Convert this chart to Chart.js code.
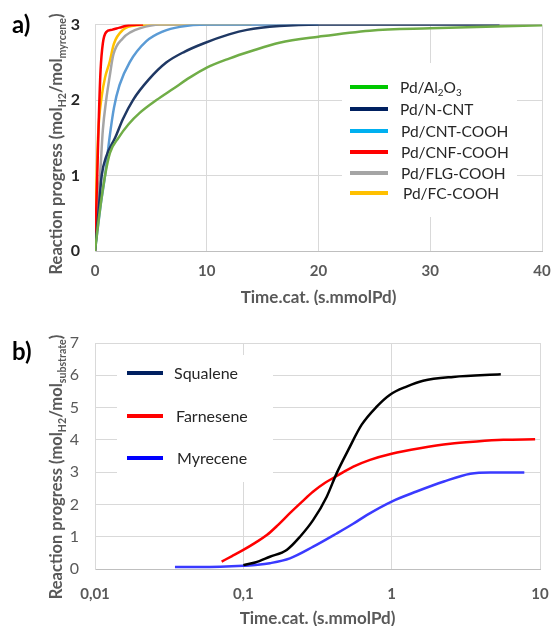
<!DOCTYPE html>
<html><head><meta charset="utf-8">
<script src="https://cdn.jsdelivr.net/npm/chart.js@4.4.1/dist/chart.umd.min.js"></script>
<style>
body{margin:0;background:#fff;}
#ca{position:absolute;left:0;top:0;}
#cb{position:absolute;left:0;top:305px;}
</style></head>
<body>
<canvas id="ca" width="554" height="305"></canvas>
<canvas id="cb" width="554" height="321"></canvas>
<script>
// ---------- Chart a) data ----------
const aLabels = ['Pd/Al_{2}O_{3}', 'Pd/N-CNT', 'Pd/CNT-COOH', 'Pd/CNF-COOH', 'Pd/FLG-COOH', 'Pd/FC-COOH'];
const aXTicks = [0, 10, 20, 30, 40];
const aYTicks = [0, 1, 2, 3];

const al2o3X = [0, 0.4, 0.9, 1.34, 2.1, 3, 4, 5.5, 7, 8.5, 10, 12, 14, 16.5, 20, 24.6, 30, 35, 40];
const al2o3Y = [0, 0.5, 1.0, 1.3, 1.5, 1.68, 1.83, 2.0, 2.15, 2.3, 2.43, 2.55, 2.65, 2.76, 2.84, 2.92, 2.95, 2.97, 2.99];
const ncntX = [0, 0.3, 0.6, 1.0, 1.8, 2.5, 3.4, 4.8, 6.4, 8, 9.7, 12, 13.6, 16.5, 20, 36.2];
const ncntY = [0, 0.5, 1.0, 1.25, 1.5, 1.75, 2.0, 2.27, 2.5, 2.64, 2.75, 2.87, 2.93, 2.98, 3.0, 3.0];
const cntX = [0, 0.5, 0.9, 1.3, 1.7, 2.2, 3.1, 4.6, 6.1, 7.6, 10, 20];
const cntY = [0, 0.6, 1.0, 1.5, 1.9, 2.2, 2.5, 2.78, 2.91, 2.97, 3.0, 3.0];
const cnfX = [0, 0.2, 0.35, 0.5, 0.7, 1.0, 1.5, 2.2, 3, 4.3];
const cnfY = [0, 1.0, 1.8, 2.4, 2.75, 2.9, 2.93, 2.96, 2.99, 3.0];
const flgX = [0, 0.25, 0.45, 0.7, 1.0, 1.3, 1.64, 2.5, 3.2, 4, 5.8, 15, 40];
const flgY = [0, 0.7, 1.0, 1.6, 2.0, 2.3, 2.6, 2.82, 2.9, 2.95, 3.0, 3.0, 3.0];
const fcX = [0, 0.15, 0.3, 0.6, 0.9, 1.3, 1.7, 2.5, 3.7, 6, 14];
const fcY = [0, 1.0, 1.6, 2.05, 2.3, 2.5, 2.75, 2.93, 2.99, 3.0, 3.0];

const aLineColors = ['#70ad47', '#1f3864', '#5b9bd5', '#ff0000', '#a5a5a5', '#ffc000'];
const aLegendColors = ['#00c800', '#002060', '#00b0f0', '#ff0000', '#a5a5a5', '#ffc000'];

// ---------- Chart b) data ----------
const bLabels = ['Squalene', 'Farnesene', 'Myrecene'];
const bXTicks = [0.01, 0.1, 1, 10];
const bXTickLabels = ['0,01', '0,1', '1', '10'];
const bYTicks = [0, 1, 2, 3, 4, 5, 6, 7];
const squaleneX = [0.1, 0.12, 0.151, 0.196, 0.241, 0.296, 0.365, 0.426, 0.51, 0.628, 0.793, 0.975, 1.26, 1.63, 2.6, 5.44];
const squaleneY = [0.12, 0.2, 0.38, 0.59, 1.0, 1.52, 2.24, 2.97, 3.69, 4.47, 5.03, 5.4, 5.65, 5.83, 5.95, 6.03];
const farneseneX = [0.0714, 0.0839, 0.1, 0.12, 0.144, 0.171, 0.206, 0.248, 0.296, 0.356, 0.426, 0.552, 0.715, 1.0, 1.55, 2.48, 3.75, 5.66, 9.27];
const farneseneY = [0.23, 0.40, 0.59, 0.81, 1.05, 1.36, 1.73, 2.08, 2.4, 2.67, 2.88, 3.17, 3.38, 3.57, 3.74, 3.88, 3.95, 4.0, 4.02];
const myreceneX = [0.0346, 0.05, 0.07, 0.1, 0.125, 0.151, 0.206, 0.296, 0.426, 0.55, 0.679, 1.0, 1.47, 2.25, 3.39, 4.63, 7.84];
const myreceneY = [0.06, 0.06, 0.07, 0.1, 0.13, 0.18, 0.33, 0.69, 1.1, 1.4, 1.67, 2.09, 2.4, 2.71, 2.95, 2.99, 2.99];
const bLineColors = ['#000000', '#ff0000', '#3a3aff'];
const bLegendColors = ['#002060', '#ff0000', '#0000ff'];

// ---------- helpers ----------
const FAM = 'Lato, "Open Sans", sans-serif';
function pts(xs, ys) { return xs.map((x, i) => ({x: x, y: ys[i]})); }
function parseRich(s) {
  const out = []; const re = /_\{([^}]*)\}/g; let last = 0, m;
  while ((m = re.exec(s))) {
    if (m.index > last) out.push({t: s.slice(last, m.index), sub: false});
    out.push({t: m[1], sub: true}); last = re.lastIndex;
  }
  if (last < s.length) out.push({t: s.slice(last), sub: false});
  return out;
}
function drawRich(ctx, s, x, y, o) {
  const segs = parseRich(s);
  const size = o.size, w = o.weight || 'normal';
  const fMain = w + ' ' + size + 'px ' + FAM;
  const fSub = w + ' ' + (size * 0.64).toFixed(1) + 'px ' + FAM;
  ctx.save();
  ctx.translate(x, y);
  if (o.angle) ctx.rotate(o.angle);
  ctx.fillStyle = o.color;
  ctx.textBaseline = 'alphabetic';
  ctx.textAlign = 'left';
  let total = 0;
  segs.forEach(sg => { ctx.font = sg.sub ? fSub : fMain; sg.w = ctx.measureText(sg.t).width; total += sg.w; });
  let cx = o.align === 'center' ? -total / 2 : 0;
  const base = size * 0.36;
  segs.forEach(sg => {
    ctx.font = sg.sub ? fSub : fMain;
    ctx.fillText(sg.t, cx, sg.sub ? base + size * 0.22 : base);
    cx += sg.w;
  });
  ctx.restore();
}

function makeDecor(cfg) {
  return {
    id: 'decor',
    beforeDatasetsDraw(chart) {
      const ctx = chart.ctx; const b = cfg.box;
      ctx.save(); ctx.fillStyle = '#ffffff'; ctx.fillRect(b[0], b[1], b[2] - b[0], b[3] - b[1]); ctx.restore();
    },
    afterDraw(chart) {
      const ctx = chart.ctx; const ca = chart.chartArea;
      cfg.legend.labels.forEach((lab, i) => {
        const y = cfg.legend.ys[i];
        ctx.save();
        ctx.strokeStyle = cfg.legend.colors[i]; ctx.lineWidth = 4; ctx.lineCap = 'butt';
        ctx.beginPath(); ctx.moveTo(cfg.legend.x0, y); ctx.lineTo(cfg.legend.x1, y); ctx.stroke();
        ctx.restore();
        drawRich(ctx, lab, cfg.legend.tx[i], y, {size: cfg.legend.size, color: '#262626', align: 'left'});
      });
      drawRich(ctx, 'Time.cat. (s.mmolPd)', (ca.left + ca.right) / 2, cfg.xTitleY, {size: 17, weight: 'bold', color: '#595959', align: 'center'});
      drawRich(ctx, cfg.yTitle, cfg.yTitleX, cfg.yTitleY, {size: 16.5, weight: 'bold', color: '#595959', align: 'center', angle: -Math.PI / 2});
      ctx.save(); ctx.font = 'bold 24px ' + FAM; ctx.fillStyle = '#000'; ctx.textBaseline = 'middle'; ctx.textAlign = 'left';
      ctx.fillText(cfg.panel, 12, cfg.panelY); ctx.restore();
    }
  };
}

Chart.defaults.font.family = FAM;
const noPad = s => { s.paddingLeft = 0; s.paddingRight = 0; };

// ---------- Chart a ----------
const aData = [[al2o3X, al2o3Y], [ncntX, ncntY], [cntX, cntY], [cnfX, cnfY], [flgX, flgY], [fcX, fcY]];
new Chart(document.getElementById('ca'), {
  type: 'line',
  data: {
    datasets: aData.map((d, i) => ({
      label: aLabels[i], data: pts(d[0], d[1]), borderColor: aLineColors[i],
      borderWidth: 2.5, pointRadius: 0, fill: false, cubicInterpolationMode: 'monotone'
    }))
  },
  options: {
    responsive: false, animation: false, devicePixelRatio: 1,
    layout: {padding: {top: 19, right: 12, left: 0, bottom: 0}},
    plugins: {legend: {display: false}, tooltip: {enabled: false}},
    scales: {
      x: {
        type: 'linear', min: aXTicks[0], max: aXTicks[aXTicks.length - 1],
        afterBuildTicks: s => { s.ticks = aXTicks.map(v => ({value: v})); },
        afterFit: s => { s.height = 54; noPad(s); },
        ticks: {font: {size: 15, weight: 'bold'}, color: '#595959', padding: 11, maxRotation: 0},
        grid: {color: '#d9d9d9', drawTicks: false},
        border: {color: '#bfbfbf'}
      },
      y: {
        min: aYTicks[0], max: aYTicks[aYTicks.length - 1],
        afterBuildTicks: s => { s.ticks = aYTicks.map(v => ({value: v})); },
        afterFit: s => { s.width = 95; },
        ticks: {font: {size: 16, weight: 'bold'}, color: '#262626', padding: 15},
        grid: {color: '#d9d9d9', drawTicks: false},
        border: {color: '#d9d9d9'}
      }
    }
  },
  plugins: [makeDecor({
    box: [342, 63, 517, 217],
    legend: {labels: aLabels, colors: aLegendColors, x0: 350, x1: 388, size: 15.5, tx: [400, 400, 401, 401, 401, 403], ys: [87, 109, 131, 152, 173, 193]},
    xTitleY: 297, yTitle: 'Reaction progress (mol_{H2}/mol_{myrcene})', yTitleX: 56, yTitleY: 144,
    panel: 'a)', panelY: 25
  })]
});

// ---------- Chart b ----------
const bData = [[squaleneX, squaleneY], [farneseneX, farneseneY], [myreceneX, myreceneY]];
new Chart(document.getElementById('cb'), {
  type: 'line',
  data: {
    datasets: bData.map((d, i) => ({
      label: bLabels[i], data: pts(d[0], d[1]), borderColor: bLineColors[i],
      borderWidth: 2.5, pointRadius: 0, fill: false, cubicInterpolationMode: 'monotone'
    }))
  },
  options: {
    responsive: false, animation: false, devicePixelRatio: 1,
    layout: {padding: {top: 38, right: 14, left: 0, bottom: 0}},
    plugins: {legend: {display: false}, tooltip: {enabled: false}},
    scales: {
      x: {
        type: 'logarithmic', min: bXTicks[0], max: bXTicks[bXTicks.length - 1],
        afterBuildTicks: s => { s.ticks = bXTicks.map(v => ({value: v})); },
        afterFit: s => { s.height = 57; noPad(s); },
        ticks: {font: {size: 15, weight: 'bold'}, color: '#595959', padding: 16, maxRotation: 0,
          callback: v => { const i = bXTicks.indexOf(v); return i >= 0 ? bXTickLabels[i] : ''; }},
        grid: {color: '#d9d9d9', drawTicks: false},
        border: {color: '#bfbfbf'}
      },
      y: {
        min: bYTicks[0], max: bYTicks[bYTicks.length - 1],
        afterBuildTicks: s => { s.ticks = bYTicks.map(v => ({value: v})); },
        ticks: {font: {size: 16}, color: '#595959', padding: 16},
        afterFit: s => { s.width = 95; },
        grid: {color: '#d9d9d9', drawTicks: false},
        border: {color: '#d9d9d9'}
      }
    }
  },
  plugins: [makeDecor({
    box: [117, 50, 273, 177],
    legend: {labels: bLabels, colors: bLegendColors, x0: 127, x1: 163, size: 16, tx: [174, 176, 177], ys: [68, 111, 153]},
    xTitleY: 313, yTitle: 'Reaction progress (mol_{H2}/mol_{substrate})', yTitleX: 56, yTitleY: 162,
    panel: 'b)', panelY: 47
  })]
});
</script>
</body></html>
